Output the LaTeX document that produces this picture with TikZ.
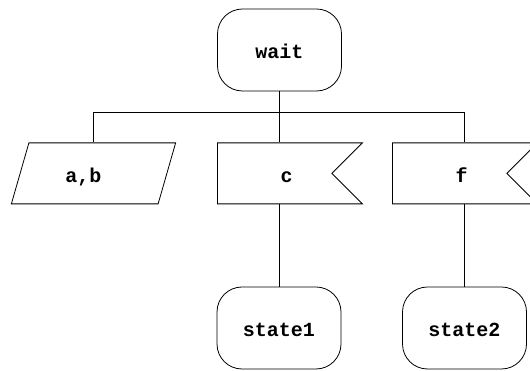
\documentclass[tikz,border=0pt]{standalone}
\usepackage{fontspec}
\setmonofont{Liberation Mono}
\usetikzlibrary{shapes.geometric,shapes.symbols}

\tikzset{
  sdl/.style={draw, line width=0.8pt, font=\ttfamily\bfseries\fontsize{20}{24}\selectfont,
    text height=18pt, text depth=0pt},
  state/.style={sdl, rectangle, rounded corners=25pt, minimum width=124pt, minimum height=82pt},
  input/.style={sdl, signal, signal to=nowhere, signal from=east, signal pointer angle=90,
    minimum width=145pt, minimum height=61pt, execute at begin node={\hspace*{24pt}}},
  task/.style={sdl, trapezium, trapezium left angle=71, trapezium right angle=109, trapezium stretches=true,
    minimum width=165pt, minimum height=61pt, execute at end node={\hspace*{20pt}}},
  wire/.style={line width=0.8pt},
}

\begin{document}
\begin{tikzpicture}[x=1pt,y=1pt]

\def\width{530}
\def\height{371}
\def\rowy{197.6}

\useasboundingbox (0,0) rectangle (\width,\height);

% STATES
\node[state] (wait) at (279.5,321) {wait};
\node[state] (state1) at (279,43) {state1};
\node[state] (state2) at (464.5,43) {state2};

% INPUTS
\node[task] (ab) at (93.5,\rowy) {a,b};
\node[input, anchor=west] (c) at (217,\rowy) {c};
\node[input, anchor=west] (f) at (392,\rowy) {f};

% WIRES
\coordinate (bus) at (279.5,258.3);
\draw[wire] (wait.south) -- (c.north -| wait.south);
\draw[wire] (ab.north) |- (bus) -| (f.north -| state2.north);
\draw[wire] (c.south -| state1.north) -- (state1.north);
\draw[wire] (f.south -| state2.north) -- (state2.north);

\end{tikzpicture}
\end{document}
